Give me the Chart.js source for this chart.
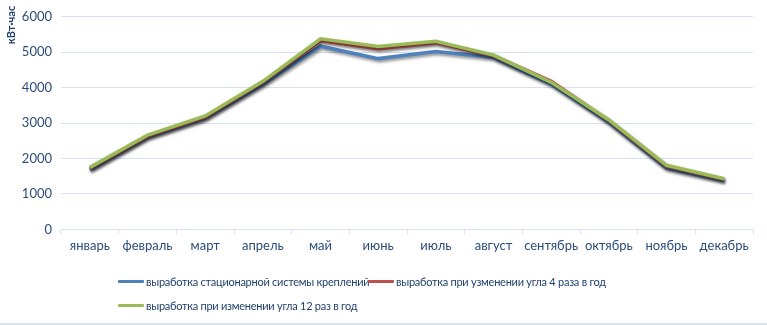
<!DOCTYPE html>
<html>
<head>
<meta charset="utf-8">
<script src="https://cdn.jsdelivr.net/npm/chart.js@4.4.0/dist/chart.umd.min.js"></script>
<style>
  body { margin: 0; background: #fff; }
  #wrap { position: relative; width: 767px; height: 325px; border-bottom: 2px solid #dce6f2; box-sizing: border-box; }
  .leg { position: absolute; font-family: Lato, "Liberation Sans", sans-serif; font-size: 11px; letter-spacing: -0.25px; color: #1f3f6e; white-space: nowrap; display: flex; align-items: center; }
  .leg span.ln { display: inline-block; width: 26px; height: 3px; margin-right: 2px; border-radius: 1px; }
</style>
</head>
<body>
<div id="wrap">
  <canvas id="LineChartOutput" width="767" height="323"></canvas>
</div>
<script>
const months = ['январь', 'февраль', 'март', 'апрель', 'май', 'июнь', 'июль', 'август', 'сентябрь', 'октябрь', 'ноябрь', 'декабрь'];
const stationary = [1680, 2600, 3130, 4090, 5170, 4820, 5020, 4850, 4100, 3020, 1730, 1370];
const angle4 = [1720, 2630, 3170, 4150, 5330, 5100, 5270, 4900, 4180, 3070, 1780, 1410];
const angle12 = [1750, 2660, 3200, 4180, 5380, 5160, 5310, 4920, 4150, 3090, 1810, 1430];
const seriesNames = ['выработка стационарной системы креплений', 'выработка при узменении угла 4 раза в год', 'выработка при изменении угла 12 раз в год'];
const seriesColors = ['#4f81bd', '#c0504d', '#9bbb59'];
const yTicks = [0, 1000, 2000, 3000, 4000, 5000, 6000];
const tickColor = '#2c4d7a';
const gridColor = '#d6e3f3';

// html legend, rows like in excel
const legendPos = [[118, 283], [368, 283], [118, 307]];
seriesNames.forEach((name, i) => {
    const d = document.createElement('div');
    d.className = 'leg';
    d.style.left = legendPos[i][0] + 'px';
    d.style.top = (legendPos[i][1] - 8) + 'px';
    d.innerHTML = '<span class="ln" style="background:' + seriesColors[i] + '"></span>' + name;
    document.getElementById('wrap').appendChild(d);
});

const shadowPlugin = {
    id: 'shadow',
    beforeDatasetsDraw(chart) {
        const ctx = chart.ctx;
        ctx.save();
        ctx.shadowColor = 'rgba(0,0,0,0.45)';
        ctx.shadowBlur = 3;
        ctx.shadowOffsetX = 1;
        ctx.shadowOffsetY = 2;
    },
    afterDatasetsDraw(chart) {
        chart.ctx.restore();
    }
};

const yTitlePlugin = {
    id: 'yTitle',
    afterDraw(chart) {
        const ctx = chart.ctx;
        ctx.save();
        ctx.translate(11, 25);
        ctx.rotate(-Math.PI / 2);
        ctx.font = 'bold 11px Lato, "Liberation Sans", sans-serif';
        ctx.fillStyle = '#1f3f6e';
        ctx.textAlign = 'center';
        ctx.textBaseline = 'middle';
        ctx.fillText('кВт·час', 0, 0);
        ctx.restore();
    }
};

const data = {
    labels: months,
    datasets: [stationary, angle4, angle12].map((values, i) => ({
        label: seriesNames[i],
        data: values,
        borderColor: seriesColors[i],
        backgroundColor: seriesColors[i],
        borderWidth: 3.5,
        pointRadius: 0,
        fill: false,
        tension: 0,
        order: 3 - i,
    }))
};

const config = {
    type: 'line',
    data: data,
    plugins: [shadowPlugin, yTitlePlugin],
    options: {
        responsive: false,
        animation: false,
        layout: {
            padding: { left: 22, top: 0, right: 14, bottom: 65 }
        },
        plugins: {
            legend: { display: false },
            tooltip: { enabled: false },
        },
        scales: {
            y: {
                min: 0,
                max: 6000,
                afterBuildTicks: axis => { axis.ticks = yTicks.map(v => ({ value: v })); },
                afterFit: axis => { axis.width = 39; },
                grid: { color: gridColor, drawTicks: false },
                border: { display: false },
                ticks: {
                    color: tickColor,
                    padding: 9,
                    callback: v => String(v),
                    font: { family: 'Lato, "Liberation Sans", sans-serif', size: 13 },
                },
            },
            x: {
                offset: true,
                grid: { offset: true, drawOnChartArea: false, color: gridColor, tickLength: 5 },
                border: { color: gridColor },
                ticks: {
                    color: tickColor,
                    padding: 4,
                    maxRotation: 0,
                    autoSkip: false,
                    font: { family: 'Lato, "Liberation Sans", sans-serif', size: 13 },
                },
            }
        }
    }
};

new Chart(document.getElementById('LineChartOutput'), config);
</script>
</body>
</html>
